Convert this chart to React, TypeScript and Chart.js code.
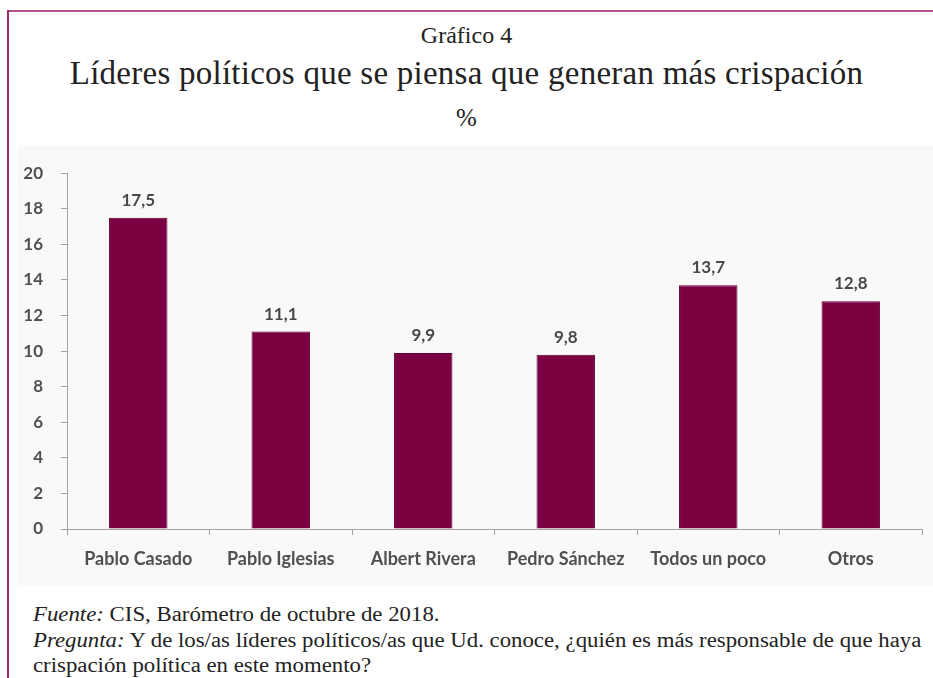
import React, { useEffect, useRef } from "react";
import { Chart, registerables } from "chart.js";

Chart.register(...registerables);

const categories = ["Pablo Casado", "Pablo Iglesias", "Albert Rivera", "Pedro Sánchez", "Todos un poco", "Otros"];
const values = [17.5, 11.1, 9.9, 9.8, 13.7, 12.8];
const yTicks = [0, 2, 4, 6, 8, 10, 12, 14, 16, 18, 20];

const BAR = "#7b0042";
const AXIS = "#a8a0a0";
const TXT = "#505050";

const labelPlugin = {
  id: "barLabels",
  afterDatasetsDraw(chart: any) {
    const ctx = chart.ctx;
    const meta = chart.getDatasetMeta(0);
    ctx.save();
    ctx.font = "bold 17px Lato";
    ctx.fillStyle = "#484848";
    ctx.textAlign = "center";
    ctx.textBaseline = "bottom";
    meta.data.forEach((el: any, i: number) => {
      const txt = values[i].toFixed(1).replace(".", ",");
      ctx.fillText(txt, el.x, el.y - 9);
    });
    ctx.restore();
  },
};

export default function App() {
  const ref = useRef<HTMLCanvasElement | null>(null);
  useEffect(() => {
    if (!ref.current) return;
    const chart = new Chart(ref.current, {
      type: "bar",
      data: {
        labels: categories,
        datasets: [
          {
            data: values,
            backgroundColor: BAR,
            borderColor: "#5c0031",
            borderWidth: 1,
            barPercentage: 0.41,
            categoryPercentage: 1,
          },
        ],
      },
      options: {
        animation: false,
        responsive: false,
        maintainAspectRatio: false,
        layout: { padding: { top: 12, right: 11, left: 0, bottom: 0 } },
        plugins: { legend: { display: false }, tooltip: { enabled: false } },
        scales: {
          x: {
            grid: { display: true, drawOnChartArea: false, drawTicks: true, tickLength: 6, color: AXIS, offset: true },
            border: { display: true, color: AXIS, width: 1 },
            ticks: { color: TXT, font: { family: "Lato", size: 18, weight: "bold" }, padding: 13, maxRotation: 0, autoSkip: false },
            afterFit: (s: any) => {
              s.height = 56;
            },
          },
          y: {
            min: 0,
            max: 20,
            afterBuildTicks: (s: any) => {
              s.ticks = yTicks.map((v) => ({ value: v }));
            },
            grid: { display: true, drawOnChartArea: false, drawTicks: true, tickLength: 6, color: AXIS },
            border: { display: true, color: AXIS, width: 1 },
            ticks: { color: TXT, font: { family: "Lato", size: 17, weight: "bold" }, padding: 18 },
            afterFit: (s: any) => {
              s.width = 50;
            },
          },
        },
      },
      plugins: [labelPlugin],
    });
    return () => chart.destroy();
  }, []);

  const serif = "'Liberation Serif', serif";
  return (
    <div style={{ position: "fixed", left: 0, top: 0, width: 933, height: 678, background: "#fff", overflow: "hidden" }}>
      <div style={{ position: "absolute", left: 7, top: 10, width: 926, height: 2, background: "#b0538a" }} />
      <div style={{ position: "absolute", left: 7, top: 10, width: 2, height: 668, background: "#9c2c66" }} />
      <div style={{ position: "absolute", left: 0, width: 933, top: 21, textAlign: "center", fontFamily: serif, fontSize: 24, color: "#222", lineHeight: "28px" }}>
        Gráfico 4
      </div>
      <div style={{ position: "absolute", left: 0, width: 933, top: 53, textAlign: "center", fontFamily: serif, fontSize: 33, letterSpacing: 0.25, color: "#222", lineHeight: "40px" }}>
        Líderes políticos que se piensa que generan más crispación
      </div>
      <div style={{ position: "absolute", left: 0, width: 933, top: 103, textAlign: "center", fontFamily: serif, fontSize: 25, color: "#222", lineHeight: "30px" }}>
        %
      </div>
      <div style={{ position: "absolute", left: 17, top: 145, width: 916, height: 440, background: "#f9f9f9" }}>
        <canvas ref={ref} width={916} height={440} style={{ display: "block", width: 916, height: 440 }} />
      </div>
      <div style={{ position: "absolute", left: 33, top: 602, width: 800, whiteSpace: "nowrap", fontFamily: serif, fontSize: 20, color: "#222", lineHeight: "25.5px", transform: "scaleX(1.14)", transformOrigin: "left top" }}>
        <div><i>Fuente:</i> CIS, Barómetro de octubre de 2018.</div>
        <div><i>Pregunta:</i> Y de los/as líderes políticos/as que Ud. conoce, ¿quién es más responsable de que haya</div>
        <div>crispación política en este momento?</div>
      </div>
    </div>
  );
}
